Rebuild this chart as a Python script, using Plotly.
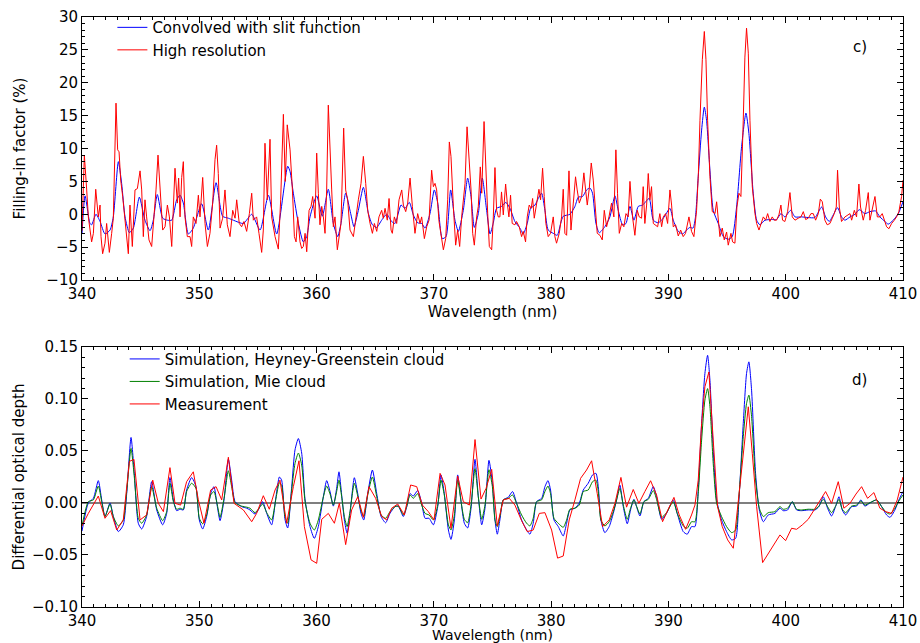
import plotly.graph_objects as go

# ---------------- panel c: filling-in factor (%) ----------------
wl_conv = [340.00,340.26,340.68,340.82,341.19,341.54,341.96,342.39,342.67,343.10,343.38,343.67,344.04,344.38,344.89,345.37,345.80,346.08,346.42,346.88,347.28,347.65,348.07,348.36,348.64,349.07,349.49,350.20,350.77,351.43,351.99,352.48,352.90,353.76,354.47,355.18,355.89,356.60,357.54,357.74,358.02,358.45,358.87,359.16,359.44,360.01,360.49,361.00,361.43,361.80,362.08,362.48,362.91,363.19,363.56,363.99,364.42,364.76,365.13,365.55,365.98,366.40,366.69,367.20,367.54,367.91,368.25,368.62,368.96,369.25,369.67,370.04,370.33,370.72,371.04,371.43,371.80,372.09,372.51,372.88,373.17,373.45,373.79,374.13,374.50,374.79,375.06,375.35,375.77,376.14,376.49,376.91,377.34,377.62,377.96,378.25,378.62,378.90,379.19,379.47,379.75,380.18,380.52,380.81,381.03,381.60,382.03,382.31,382.68,383.02,383.31,383.53,383.82,384.10,384.58,385.01,385.44,385.72,386.09,386.38,386.72,387.06,387.43,387.80,388.36,388.71,389.13,389.56,390.13,390.41,390.84,391.21,391.55,391.83,392.10,392.30,392.54,392.83,393.06,393.25,393.54,393.82,394.25,394.68,395.10,395.44,395.81,396.24,396.61,396.86,397.23,397.52,397.80,398.23,398.80,399.22,399.59,399.93,400.42,400.79,401.35,401.92,402.49,403.06,403.40,403.71,404.05,404.42,404.76,405.05,405.48,405.90,406.27,406.75,407.18,407.66,408.03,408.46,408.74,409.17,409.60,410.00]
fill_conv = [-3.0,2.8,-1.4,-1.6,0.0,-1.1,-3.0,-2.4,-0.4,8.0,4.7,-0.4,-2.8,-2.1,2.6,-0.9,-2.5,-0.9,3.0,-0.6,-0.9,-0.9,2.2,2.9,1.7,-3.0,-2.1,1.6,-2.4,4.8,-0.3,-0.6,-0.9,-1.4,0.0,-2.4,2.9,-3.0,7.3,6.5,3.2,-1.4,-4.2,-3.4,-0.4,2.8,-0.3,3.8,-1.4,-3.4,-1.4,3.2,0.1,-1.9,0.6,4.1,0.1,-1.6,-2.0,-0.9,0.0,-1.1,-1.4,1.4,0.9,1.8,-0.1,-1.3,-1.4,-2.1,0.1,3.7,1.7,-3.7,-3.4,3.7,-0.9,-2.6,0.6,5.5,2.7,-2.0,0.1,5.5,0.6,-3.0,-1.4,0.9,1.2,1.8,0.9,-1.1,-2.1,-3.0,-1.4,0.9,1.4,2.4,3.2,0.6,-2.4,-2.9,-3.2,-1.4,-0.3,0.0,1.2,2.6,2.7,3.7,4.0,3.2,-1.4,-2.8,-1.9,-0.4,2.8,0.6,-1.6,-1.4,1.2,-0.9,1.2,1.4,2.4,-0.9,-1.3,-0.6,0.9,-0.9,-2.6,-3.0,-2.4,-2.0,-2.1,-0.5,5.7,12.8,16.3,14.3,6.7,0.6,-1.4,-3.4,-3.8,-3.4,1.1,10.3,15.4,12.3,3.2,-0.9,-1.6,-0.9,-0.8,-0.8,0.1,-0.4,0.6,-0.4,-0.4,-0.5,-0.5,1.1,-0.4,-1.1,-0.1,1.0,-0.4,-0.9,-0.4,0.0,0.7,0.1,0.4,0.5,-0.4,-1.1,-1.5,-0.9,0.1,1.9]

wl_hr = [340.00,340.20,340.40,340.54,340.82,340.97,341.17,341.39,341.54,341.62,341.76,341.96,342.10,342.25,342.33,342.53,342.67,342.90,343.04,343.16,343.30,343.47,343.67,343.81,343.95,344.09,344.29,344.52,344.72,344.95,345.09,345.23,345.37,345.51,345.71,345.94,346.14,346.31,346.48,346.65,346.88,347.08,347.28,347.45,347.65,347.93,348.13,348.24,348.36,348.50,348.64,348.78,348.98,349.21,349.35,349.49,349.72,349.92,350.06,350.29,350.49,350.69,350.91,351.14,351.34,351.48,351.62,351.77,351.99,352.19,352.39,352.62,352.85,353.05,353.19,353.41,353.61,353.81,354.04,354.27,354.47,354.61,354.89,355.09,355.32,355.46,355.60,355.80,356.03,356.17,356.46,356.74,356.94,357.17,357.33,357.50,357.74,357.94,358.11,358.25,358.39,358.59,358.73,358.87,359.02,359.16,359.36,359.53,359.67,359.87,360.01,360.15,360.29,360.44,360.58,360.72,360.86,361.00,361.15,361.29,361.43,361.57,361.77,361.94,362.08,362.31,362.48,362.65,362.85,363.14,363.34,363.56,363.79,363.99,364.19,364.36,364.56,364.76,364.93,365.13,365.32,365.55,365.69,365.84,366.03,366.18,366.35,366.46,366.63,366.83,367.03,367.26,367.40,367.60,367.77,367.97,368.17,368.39,368.62,368.82,368.96,369.19,369.39,369.59,369.81,369.96,370.10,370.24,370.44,370.67,370.81,371.01,371.18,371.32,371.46,371.66,371.86,372.03,372.20,372.37,372.66,372.83,373.00,373.17,373.31,373.45,373.65,373.79,373.96,374.08,374.28,374.42,374.59,374.73,374.93,375.07,375.21,375.35,375.49,375.63,375.77,375.92,376.12,376.26,376.40,376.54,376.68,376.91,377.05,377.28,377.48,377.62,377.82,377.96,378.13,378.30,378.42,378.56,378.76,378.96,379.10,379.27,379.41,379.55,379.75,379.95,380.18,380.32,380.46,380.69,380.89,381.03,381.17,381.32,381.52,381.69,381.89,382.08,382.22,382.40,382.60,382.79,382.94,383.08,383.25,383.42,383.59,383.76,383.93,384.16,384.36,384.53,384.73,384.93,385.15,385.35,385.52,385.66,385.81,386.01,386.20,386.38,386.57,386.72,386.94,387.14,387.34,387.51,387.71,387.85,387.99,388.14,388.28,388.42,388.56,388.71,388.85,389.08,389.27,389.42,389.56,389.76,389.93,390.13,390.27,390.41,390.61,390.84,391.04,391.26,391.46,391.75,391.97,392.17,392.40,392.55,392.69,392.89,393.06,393.20,393.34,393.54,393.74,393.97,394.11,394.25,394.39,394.59,394.76,394.96,395.10,395.33,395.47,395.67,395.84,396.01,396.18,396.38,396.52,396.66,396.81,396.95,397.15,397.38,397.52,397.72,397.89,398.09,398.29,398.46,398.65,398.85,399.02,399.22,399.42,399.59,399.73,399.93,400.16,400.36,400.56,400.79,401.07,401.30,401.50,401.70,401.92,402.15,402.35,402.55,402.78,402.95,403.12,403.34,403.54,403.77,403.97,404.14,404.31,404.42,404.57,404.76,405.05,405.28,405.48,405.62,405.85,406.04,406.24,406.38,406.61,406.81,407.04,407.18,407.38,407.61,407.81,408.03,408.23,408.40,408.60,408.80,409.03,409.26,409.45,409.65,409.88,410.00]
fill_hr = [-2.5,9.0,3.7,-0.4,-4.2,-2.9,3.8,-0.4,1.4,-3.4,-6.0,-4.4,-1.4,-3.7,-5.8,-2.9,-0.6,16.9,9.8,9.5,5.2,2.7,-1.1,-3.9,-6.0,1.4,-4.9,3.7,3.9,6.6,3.7,-3.4,2.2,-0.4,-3.9,-4.9,-0.4,3.7,9.0,3.7,-2.4,-1.9,1.4,-0.4,-4.9,7.0,1.7,5.5,-0.4,5.6,8.0,-0.4,-3.4,-3.4,-4.9,-0.4,-1.4,2.9,-0.4,5.6,-1.4,-4.9,-2.9,1.7,8.3,10.5,6.2,-2.1,-0.6,3.7,-1.6,-3.4,0.6,-0.6,2.2,-1.4,-1.9,-1.1,-2.6,0.1,3.2,-0.9,-0.4,-2.9,-5.8,-2.4,10.8,2.2,11.4,-0.4,-3.4,-5.3,2.2,15.2,5.0,13.6,9.8,3.7,-3.4,-4.2,-0.4,-4.2,-5.2,-4.9,-2.9,-5.7,0.6,1.2,2.7,-0.6,9.3,3.2,-1.6,1.2,-0.4,-2.9,3.7,16.6,8.8,3.7,-1.9,-0.4,-5.4,-2.9,-1.4,13.1,3.7,2.2,-2.4,-3.4,-0.6,2.2,4.7,8.8,4.7,0.6,-1.4,-2.9,-1.4,-2.6,-0.4,0.6,-0.6,0.9,-0.9,2.4,-2.4,-2.9,-0.4,-1.4,2.2,3.7,1.4,0.4,1.7,5.5,1.2,-2.9,0.1,-1.4,-0.4,-3.7,-1.9,-0.9,6.7,4.2,4.7,3.7,-1.1,-3.4,-5.4,-3.7,2.2,11.0,8.8,1.2,-4.7,-2.4,-4.9,-0.4,4.7,13.3,8.8,3.7,-2.9,-4.7,-0.4,1.2,7.2,3.2,14.1,7.2,0.1,-4.9,-5.4,-0.4,7.1,0.6,-0.4,-0.4,3.4,-0.1,4.6,1.7,-0.4,2.9,-1.4,-1.6,-1.1,-1.9,-3.4,-2.6,-4.2,-0.4,1.4,0.9,2.4,-0.6,1.9,3.8,2.2,7.0,2.7,-1.4,-3.4,-2.9,-0.4,-3.4,-4.4,-2.9,-0.4,3.8,-2.9,-3.2,6.6,-2.4,1.7,5.7,3.7,1.7,2.7,6.3,3.7,1.4,3.9,7.8,5.2,0.6,-2.9,-3.2,-3.9,0.6,-1.9,-0.4,1.7,-0.4,9.8,3.2,-2.9,-1.4,-1.9,0.1,-0.4,5.0,-0.4,-3.2,0.6,-0.4,-0.6,4.2,-1.4,1.4,6.2,2.2,4.2,-1.4,-1.6,-1.9,0.1,-1.9,-0.4,0.1,-1.4,3.7,1.4,-1.9,-1.6,-3.3,-2.4,-3.4,-2.9,-0.4,-2.6,-3.4,0.6,6.0,14.3,23.5,27.8,23.5,14.3,5.7,0.4,0.1,1.9,-0.9,-3.4,-2.1,-3.9,-2.7,-4.7,-2.9,-4.2,-4.4,1.1,3.2,2.7,14.3,23.9,28.3,24.5,14.3,4.2,0.1,-1.4,-2.4,-1.6,-0.4,-0.9,0.1,-1.1,-0.4,-0.9,-0.9,-0.1,1.4,-0.9,-1.1,0.4,3.3,-0.4,-0.9,-0.6,-0.4,0.4,-0.8,-0.6,0.1,0.1,-0.9,0.1,2.3,1.9,-0.9,-1.6,-1.4,-0.6,0.1,1.1,6.7,1.1,-1.1,-0.4,-0.1,0.1,-0.9,0.6,-0.4,4.6,1.1,-0.9,0.6,3.3,-0.9,0.6,2.7,-0.4,-0.4,0.1,-0.9,-1.9,-2.2,-1.4,-0.9,-0.4,0.4,2.7,5.2]

# ---------------- panel d: differential optical depth ----------------
wl_sim = [340.00,340.54,340.97,341.39,341.68,341.96,342.39,342.67,343.10,343.52,343.81,344.18,344.46,344.80,345.09,345.51,345.94,346.37,346.88,347.22,347.50,347.79,348.07,348.36,348.64,348.92,349.35,349.72,350.00,350.29,350.63,350.97,351.25,351.54,351.77,352.11,352.48,352.76,353.05,353.61,354.04,354.32,354.75,355.03,355.40,355.75,356.17,356.54,356.83,357.02,357.31,357.54,357.88,358.16,358.45,358.73,359.02,359.44,359.81,360.15,360.58,360.86,361.15,361.43,361.71,361.91,362.14,362.37,362.60,362.85,363.22,363.51,363.79,364.02,364.36,364.76,365.13,365.50,365.89,366.26,366.69,366.97,367.40,367.68,367.97,368.25,368.62,368.96,369.25,369.59,369.96,370.33,370.61,370.89,371.24,371.46,371.75,372.03,372.32,372.60,372.88,373.17,373.51,373.79,374.08,374.36,374.70,374.99,375.21,375.41,375.63,375.92,376.34,376.71,377.05,377.48,377.91,378.19,378.47,378.76,379.19,379.47,379.73,379.95,380.24,380.61,381.03,381.32,381.60,382.03,382.40,382.74,383.16,383.53,383.82,384.02,384.24,384.58,384.95,385.30,385.58,385.86,386.15,386.49,386.77,387.06,387.28,387.57,387.91,388.28,388.71,388.99,389.42,389.84,390.41,390.75,391.26,391.60,391.97,392.26,392.54,392.83,393.11,393.34,393.54,393.82,394.11,394.53,394.96,395.39,395.73,396.01,396.38,396.66,396.86,397.09,397.43,397.75,398.09,398.51,399.08,399.51,399.79,400.16,400.56,400.93,401.35,401.92,402.49,402.83,403.20,403.57,403.91,404.25,404.54,404.82,405.11,405.62,406.04,406.41,406.75,407.18,407.75,408.18,408.60,408.89,409.31,409.65,410.00]
dod_hg = [-0.027,0.000,0.0045,0.0215,0.003,-0.013,0.000,-0.013,-0.0275,-0.021,0.009,0.063,0.0285,-0.0195,-0.025,-0.013,0.0205,-0.0067,-0.021,-0.010,0.0245,0.003,-0.0074,-0.006,-0.0067,0.0125,0.0245,0.0157,-0.0163,-0.025,-0.013,0.009,0.0157,-0.0035,-0.017,0.003,0.042,0.022,0.0013,-0.0035,-0.005,-0.0067,-0.0106,-0.0067,0.0013,-0.010,-0.021,0.006,0.025,0.022,-0.016,-0.024,0.0157,0.051,0.062,0.048,0.003,-0.0227,-0.034,-0.0227,0.006,0.0215,0.011,-0.003,0.014,0.030,0.0077,-0.0163,-0.029,-0.010,0.0243,0.009,-0.010,-0.0163,0.009,0.0317,0.009,-0.013,-0.019,-0.010,-0.0035,-0.003,-0.013,-0.004,0.009,0.0067,0.012,0.000,-0.0147,-0.0147,-0.021,-0.0035,0.027,0.009,-0.026,-0.035,-0.0163,0.027,0.0013,-0.0195,-0.024,-0.005,0.042,0.006,-0.021,-0.005,0.041,0.019,-0.0163,-0.030,-0.0163,0.003,0.0055,0.011,0.000,-0.0163,-0.026,-0.030,-0.0195,0.0013,0.0045,0.0157,0.0215,0.0125,-0.0163,-0.0227,-0.0317,-0.0195,-0.0067,-0.005,0.000,0.0125,0.019,0.027,0.0285,0.0157,-0.0163,-0.0285,-0.0227,-0.010,0.003,0.0173,-0.0035,-0.020,-0.0067,0.0035,-0.0035,-0.0125,0.0013,0.0045,0.0157,0.006,-0.0157,-0.010,0.003,-0.010,-0.0275,-0.030,-0.0227,-0.0227,0.0125,0.0765,0.1245,0.142,0.118,0.051,0.003,-0.0163,-0.0275,-0.0355,-0.034,0.003,0.0765,0.1245,0.1357,0.1085,0.0285,-0.0067,-0.018,-0.0115,-0.010,-0.005,-0.0074,-0.0067,0.0013,-0.0067,-0.0074,-0.0067,-0.0067,-0.0035,0.006,-0.005,-0.0125,-0.0035,0.006,-0.0067,-0.0115,-0.0035,-0.003,0.003,-0.003,0.000,0.003,-0.0035,-0.0115,-0.0138,-0.0067,0.003,0.011]
dod_mie = [-0.022,0.0013,0.003,0.0163,0.0013,-0.013,-0.001,-0.013,-0.022,-0.0163,0.011,0.0525,0.025,-0.0147,-0.0195,-0.0115,0.0157,-0.005,-0.017,-0.0083,0.019,0.0013,-0.006,-0.005,-0.006,0.011,0.019,0.014,-0.0147,-0.020,-0.0115,0.0077,0.011,-0.002,-0.0138,0.0045,0.031,0.0157,0.0003,-0.003,-0.004,-0.005,-0.0093,-0.006,-0.001,-0.0093,-0.0163,0.0045,0.0195,0.017,-0.013,-0.0195,0.0125,0.038,0.048,0.0365,0.0013,-0.0195,-0.026,-0.0163,0.006,0.0163,0.0086,-0.002,0.011,0.022,0.006,-0.013,-0.0227,-0.0083,0.019,0.0067,-0.0074,-0.013,0.0077,0.025,0.006,-0.0115,-0.0147,-0.0083,-0.0035,-0.003,-0.0115,-0.0035,0.0077,0.0045,0.009,-0.002,-0.010,-0.0115,-0.0163,-0.002,0.022,0.0077,-0.021,-0.026,-0.0115,0.022,0.0013,-0.0157,-0.019,-0.002,0.033,0.006,-0.0157,-0.002,0.032,0.0157,-0.0163,-0.0227,-0.013,0.003,0.0045,0.0077,-0.0003,-0.0115,-0.0195,-0.022,-0.0147,0.0013,0.003,0.011,0.0163,0.009,-0.0147,-0.0195,-0.0234,-0.0163,-0.006,-0.005,-0.002,0.011,0.0125,0.0205,0.022,0.011,-0.0163,-0.022,-0.018,-0.0083,0.003,0.014,-0.002,-0.0157,-0.005,0.003,-0.003,-0.0106,0.0013,0.0035,0.012,0.0035,-0.0138,-0.0093,0.0013,-0.010,-0.022,-0.0243,-0.018,-0.018,0.0093,0.0605,0.099,0.110,0.0925,0.038,-0.0003,-0.013,-0.0227,-0.0285,-0.026,0.006,0.0637,0.0957,0.1037,0.083,0.022,-0.005,-0.013,-0.0093,-0.0083,-0.0035,-0.006,-0.005,0.0013,-0.006,-0.0067,-0.006,-0.006,-0.003,0.0035,-0.0035,-0.0093,-0.003,0.0035,-0.006,-0.0093,-0.003,-0.002,0.002,-0.002,0.0003,0.003,-0.0035,-0.0093,-0.0106,-0.005,0.002,0.0077]

wl_meas = [340.00,340.54,341.39,341.96,342.44,342.96,343.52,344.04,344.43,344.95,345.51,346.03,346.51,346.94,347.50,347.93,348.41,348.92,349.49,349.92,350.40,350.97,351.43,351.91,352.48,352.96,353.76,354.47,354.89,355.46,355.97,356.46,356.88,357.45,358.02,358.50,358.96,359.53,360.01,360.44,361.00,361.52,361.94,362.48,362.99,363.51,363.99,364.47,365.04,365.55,365.98,366.40,366.92,367.48,368.02,368.54,369.02,369.53,370.01,370.53,370.95,371.46,372.03,372.51,373.03,373.51,374.02,374.45,374.93,375.41,375.92,376.43,376.91,377.48,377.96,378.47,378.99,379.47,380.04,380.55,381.03,381.54,382.03,382.51,383.02,383.45,383.93,384.39,384.95,385.44,385.95,386.43,387.00,387.48,387.99,388.48,388.99,389.50,389.98,390.47,390.92,391.46,391.97,392.26,392.54,392.83,393.11,393.45,393.82,394.19,394.59,395.05,395.53,395.95,396.38,396.81,397.15,397.52,398.03,398.51,399.02,399.51,399.99,400.50,400.93,401.41,401.92,402.43,402.92,403.40,403.91,404.48,404.96,405.48,405.99,406.47,406.98,407.52,408.03,408.52,409.03,409.51,410.00]
dod_meas = [-0.022,-0.010,0.0067,-0.0147,-0.0074,-0.026,-0.0163,0.040,0.042,-0.0163,-0.0115,0.022,-0.0003,-0.0083,0.034,-0.0003,-0.002,0.0205,0.030,0.003,-0.0195,0.0125,0.0157,0.003,0.044,-0.0003,-0.0067,-0.018,-0.010,0.007,-0.006,0.0125,0.022,-0.0195,0.0157,0.0406,-0.0227,-0.0547,-0.058,-0.0157,-0.010,-0.0195,-0.0003,-0.040,-0.0067,0.006,-0.0138,0.0157,0.0045,-0.013,-0.0163,-0.005,-0.001,-0.0115,0.0173,0.0157,-0.002,-0.0083,-0.0163,0.0285,0.0173,-0.0243,0.026,0.0013,-0.002,0.061,0.0038,0.014,0.0323,-0.022,0.003,0.0045,-0.002,-0.017,-0.0275,-0.026,-0.010,-0.0093,-0.026,-0.053,-0.051,-0.0163,0.003,0.0237,0.0317,0.0406,0.009,-0.0227,-0.0163,-0.0003,0.0246,-0.004,0.013,-0.0003,0.011,0.0214,0.0077,-0.018,-0.006,0.0054,-0.0115,-0.0253,-0.0115,-0.002,0.022,0.0765,0.1117,0.126,0.0605,-0.0035,-0.0227,-0.0355,-0.0435,0.003,0.051,0.0925,0.0477,-0.0035,-0.0573,-0.0483,-0.0394,-0.0307,-0.0362,-0.0243,-0.0253,-0.0211,-0.0157,-0.0067,0.003,0.011,-0.0003,0.0205,-0.005,-0.0003,0.0086,0.0157,0.0045,0.010,-0.005,-0.0083,-0.010,0.003,0.025]

x_range = [340, 410]
x_ticks = [340, 350, 360, 370, 380, 390, 400, 410]
c_range = [-10, 30]
c_ticks = [-10, -5, 0, 5, 10, 15, 20, 25, 30]
d_range = [-0.10, 0.15]
d_ticks = [-0.10, -0.05, 0.00, 0.05, 0.10, 0.15]
zero_x = [340, 410]
zero_y = [0, 0]

FONT = "DejaVu Sans"
fig = go.Figure()

fig.add_trace(go.Scatter(x=wl_conv, y=fill_conv, mode="lines", name="Convolved with slit function",
                         line=dict(color="#0000ff", width=1, shape="spline", smoothing=0.6),
                         xaxis="x", yaxis="y", legend="legend"))
fig.add_trace(go.Scatter(x=wl_hr, y=fill_hr, mode="lines", name="High resolution",
                         line=dict(color="#ff0000", width=1),
                         xaxis="x", yaxis="y", legend="legend"))

fig.add_trace(go.Scatter(x=zero_x, y=zero_y, mode="lines", showlegend=False,
                         line=dict(color="#555555", width=1.5), xaxis="x2", yaxis="y2", hoverinfo="skip"))
fig.add_trace(go.Scatter(x=wl_sim, y=dod_hg, mode="lines", name="Simulation, Heyney-Greenstein cloud",
                         line=dict(color="#0000ff", width=1, shape="spline", smoothing=0.6),
                         xaxis="x2", yaxis="y2", legend="legend2"))
fig.add_trace(go.Scatter(x=wl_sim, y=dod_mie, mode="lines", name="Simulation, Mie cloud",
                         line=dict(color="#008000", width=1, shape="spline", smoothing=0.6),
                         xaxis="x2", yaxis="y2", legend="legend2"))
fig.add_trace(go.Scatter(x=wl_meas, y=dod_meas, mode="lines", name="Measurement",
                         line=dict(color="#ff0000", width=1),
                         xaxis="x2", yaxis="y2", legend="legend2"))

axis_common = dict(showline=True, linecolor="black", linewidth=1, mirror="allticks",
                   ticks="inside", ticklen=6, tickwidth=1, tickcolor="black",
                   showgrid=False, zeroline=False, automargin=False,
                   tickfont=dict(family=FONT, size=15, color="black"))

fig.update_layout(
    width=920, height=643,
    margin=dict(l=82, r=17, t=17, b=36, autoexpand=False),
    paper_bgcolor="white", plot_bgcolor="white",
    font=dict(family=FONT, size=15, color="black"),
    xaxis=dict(domain=[0, 1], range=x_range, anchor="y", tickvals=x_ticks,
               minor=dict(ticks="inside", ticklen=3, dtick=1, tickcolor="black"),
               title=dict(text="Wavelength (nm)", standoff=0, font=dict(family=FONT, size=15)),
               **axis_common),
    yaxis=dict(domain=[0.5542, 1], range=c_range, anchor="x", tickvals=c_ticks,
               minor=dict(ticks="inside", ticklen=3, dtick=1, tickcolor="black"),
               title=dict(text="Filling-in factor (%)", standoff=17, font=dict(family=FONT, size=15)),
               **axis_common),
    xaxis2=dict(domain=[0, 1], range=x_range, anchor="y2", tickvals=x_ticks,
                minor=dict(ticks="inside", ticklen=3, dtick=1, tickcolor="black"),
                title=dict(text="Wavelength (nm)", standoff=0, font=dict(family=FONT, size=14)),
                **axis_common),
    yaxis2=dict(domain=[0, 0.4407], range=d_range, anchor="x2", tickvals=d_ticks, tickformat=".2f",
                minor=dict(ticks="inside", ticklen=3, dtick=0.01, tickcolor="black"),
                title=dict(text="Differential optical depth", standoff=3, font=dict(family=FONT, size=15)),
                **axis_common),
    legend=dict(x=0.037, y=1.010, xanchor="left", yanchor="top", bgcolor="rgba(0,0,0,0)",
                font=dict(family=FONT, size=15), tracegroupgap=0),
    legend2=dict(x=0.052, y=0.448, xanchor="left", yanchor="top", bgcolor="rgba(0,0,0,0)",
                 font=dict(family=FONT, size=15), tracegroupgap=0),
    annotations=[
        dict(text="c)", x=0.9476, y=0.949, xref="paper", yref="paper", showarrow=False,
             xanchor="center", yanchor="middle", font=dict(family=FONT, size=15)),
        dict(text="d)", x=0.9476, y=0.3847, xref="paper", yref="paper", showarrow=False,
             xanchor="center", yanchor="middle", font=dict(family=FONT, size=15)),
    ],
)

fig.write_html("out.html", config={"displayModeBar": False},
               post_script="document.body.style.margin='0px';")
